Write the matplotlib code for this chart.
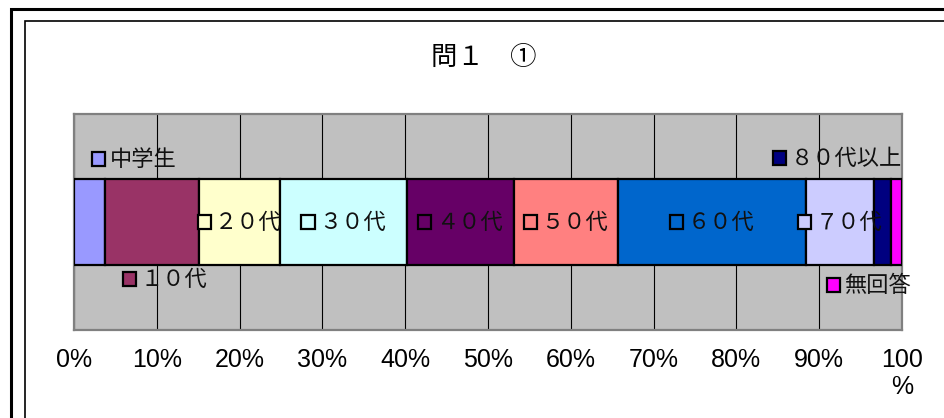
import matplotlib.pyplot as plt
from matplotlib.patches import Rectangle
from matplotlib.offsetbox import AnnotationBbox, DrawingArea, TextArea, HPacker

plt.rcParams['font.family'] = ['Noto Sans CJK JP', 'DejaVu Sans']

title = '問１　①'
groups = ['中学生', '１０代', '２０代', '３０代', '４０代', '５０代', '６０代', '７０代', '８０代以上', '無回答']
shares = [3.7, 11.4, 9.8, 15.3, 12.9, 12.6, 22.7, 8.2, 2.1, 1.3]
colors = ['#9999FF', '#993366', '#FFFFCC', '#CCFFFF', '#660066', '#FF8080',
          '#0066CC', '#CCCCFF', '#000080', '#FF00FF']
tick_values = [0, 10, 20, 30, 40, 50, 60, 70, 80, 90, 100]
tick_labels = ['0%', '10%', '20%', '30%', '40%', '50%', '60%', '70%', '80%', '90%', '100\n%']

# labels Excel moved off the bar (offset in pixels from segment centre)
moved = {'中学生': (45, 63), '１０代': (13, -57), '８０代以上': (-45, 64), '無回答': (-28, -63)}

fig = plt.figure(figsize=(9.45, 4.18), dpi=100)
fig.patch.set_facecolor('white')

# double frame of the chart object
W, H = 945, 418
fig.patches.append(Rectangle((11 / W, -0.1), 1.1, (H - 9) / H + 0.1, transform=fig.transFigure,
                             fill=False, ec='black', lw=2.2))
fig.patches.append(Rectangle((25 / W, -0.1), 1.1, (H - 21) / H + 0.1, transform=fig.transFigure,
                             fill=False, ec='black', lw=1.2))

ax = fig.add_axes([74 / W, 88 / H, 828 / W, 216 / H])
ax.set_facecolor('#C0C0C0')
ax.set_axisbelow(True)
ax.xaxis.grid(True, color='black', lw=0.8)
for s in ax.spines.values():
    s.set_color('#808080')
    s.set_linewidth(1.6)

left = 0
for g, v, c in zip(groups, shares, colors):
    ax.barh(0, v, left=left, height=0.4, color=c, edgecolor='black', lw=1.6, zorder=3)
    centre = left + v / 2
    dx, dy = moved.get(g, (0, 0))
    key = DrawingArea(9.5, 9.5, 0, 0)
    key.add_artist(Rectangle((0, 0), 9.5, 9.5, fc=c, ec='black', lw=1.6))
    txt = TextArea(g, textprops=dict(fontsize=16, color='#111111'))
    box = HPacker(children=[key, txt], align='center', pad=0, sep=3)
    ab = AnnotationBbox(box, (centre, 0), xybox=(dx * 0.72, dy * 0.72),
                        boxcoords='offset points', frameon=False, pad=0,
                        box_alignment=(0.5, 0.5), zorder=5)
    ax.add_artist(ab)
    left += v

ax.set_xlim(0, 100)
ax.set_ylim(-0.5, 0.5)
ax.set_yticks([])
ax.set_xticks(tick_values)
ax.set_xticklabels(tick_labels, fontsize=18, family='Liberation Sans', linespacing=1.15)
ax.tick_params(axis='x', length=0, pad=13)

fig.text(484 / W, 1 - 57 / H, title, fontsize=19, ha='center', va='center')

fig.savefig('out.png', dpi=100)
